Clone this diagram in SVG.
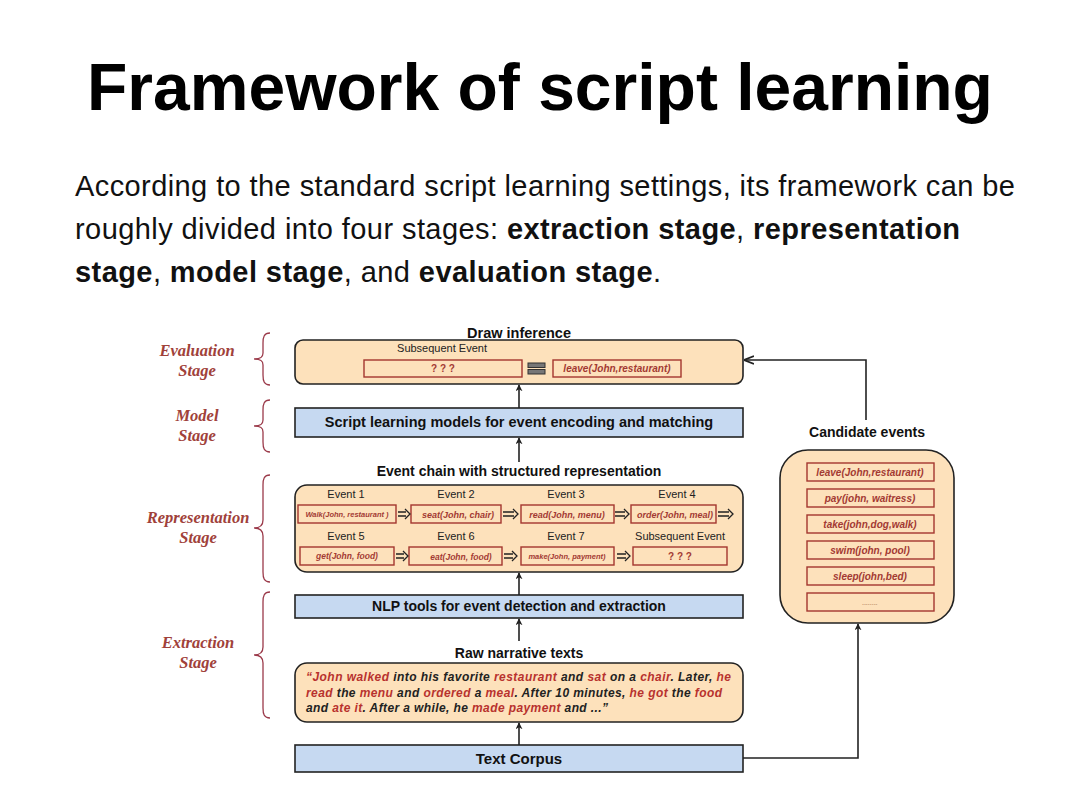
<svg xmlns="http://www.w3.org/2000/svg" width="1080" height="810" viewBox="0 0 1080 810">
<defs>
<marker id="ah" viewBox="0 0 10 10" refX="9" refY="5" markerWidth="7" markerHeight="7" orient="auto" markerUnits="userSpaceOnUse">
<path d="M0,0 L10,5 L0,10 L3,5 z" fill="#222"/>
</marker>
<marker id="ah2" viewBox="0 0 10 10" refX="9" refY="5" markerWidth="10" markerHeight="10" orient="auto" markerUnits="userSpaceOnUse">
<path d="M0,1 L10,5 L0,9" fill="none" stroke="#222" stroke-width="1.8"/>
</marker>
</defs>
<style>
.title{font-family:"Liberation Sans",Arial,sans-serif;font-weight:bold;font-size:66px;fill:#000}
.para{font-family:"Liberation Sans",Arial,sans-serif;font-size:29px;fill:#111}
.b{font-weight:bold}
.peach{fill:#FDE1BB;stroke:#222;stroke-width:1.6}
.blue{fill:#C6D9F1;stroke:#222;stroke-width:1.6}
.ev{fill:#FDE1BB;stroke:#A3362E;stroke-width:1.4}
.hd{font-family:"Liberation Sans",Arial,sans-serif;font-weight:bold;font-size:14px;fill:#111;text-anchor:middle}
.lbl{font-family:"Liberation Sans",Arial,sans-serif;font-size:11px;fill:#222;text-anchor:middle}
.it{font-family:"Liberation Sans",Arial,sans-serif;font-style:italic;font-weight:bold;font-size:10px;fill:#A33A33;text-anchor:middle}
.sm{font-size:9px}
.stage{font-family:"Liberation Serif","Times New Roman",serif;font-style:italic;font-weight:bold;font-size:16.5px;fill:#A0413A;text-anchor:middle}
.brace{fill:none;stroke:#9B3A4A;stroke-width:1.3}
.conn{fill:none;stroke:#222;stroke-width:1.6}
.dbl{fill:none;stroke:#222;stroke-width:1.3}
.raw{font-family:"Liberation Sans",Arial,sans-serif;font-style:italic;font-weight:bold;font-size:12px;fill:#222}
.r{fill:#B8322E}
</style>
<rect width="1080" height="810" fill="#fff"/>
<text class="title" x="540" y="110" text-anchor="middle">Framework of script learning</text>
<text class="para" x="75" y="196" textLength="940" lengthAdjust="spacing">According to the standard script learning settings, its framework can be</text>
<text class="para" x="75" y="239" textLength="885" lengthAdjust="spacing">roughly divided into four stages: <tspan class="b">extraction stage</tspan>, <tspan class="b">representation</tspan></text>
<text class="para" x="75" y="282" textLength="586" lengthAdjust="spacing"><tspan class="b">stage</tspan>, <tspan class="b">model stage</tspan>, and <tspan class="b">evaluation stage</tspan>.</text>

<g id="stages">
<path class="brace" d="M270,333 C264,333 263,337 263,343 L263,353 C263,357 261,359 254,359 C261,359 263,361 263,365 L263,375 C263,381 264,385 270,385"/>
<text class="stage" x="197" y="356">Evaluation</text><text class="stage" x="197" y="376">Stage</text>
<path class="brace" d="M270,400 C264,400 263,404 263,410 L263,420 C263,424 261,426 254,426 C261,426 263,428 263,432 L263,442 C263,448 264,452 270,452"/>
<text class="stage" x="197" y="421">Model</text><text class="stage" x="197" y="441">Stage</text>
<path class="brace" d="M270,475 C264,475 263,479 263,485 L263,520 C263,525 261,528 254,528 C261,528 263,531 263,536 L263,572 C263,578 264,582 270,582"/>
<text class="stage" x="198" y="523">Representation</text><text class="stage" x="198" y="543">Stage</text>
<path class="brace" d="M270,592 C264,592 263,596 263,602 L263,647 C263,652 261,655 254,655 C261,655 263,658 263,663 L263,708 C263,714 264,718 270,718"/>
<text class="stage" x="198" y="648">Extraction</text><text class="stage" x="198" y="668">Stage</text>
</g>

<g id="eval">
<text class="hd" x="519" y="338" style="font-size:14.5px">Draw inference</text>
<rect class="peach" x="295" y="340" width="448" height="44" rx="8"/>
<text class="lbl" x="442" y="352">Subsequent Event</text>
<rect class="ev" x="364" y="360" width="158" height="17"/>
<text class="it" x="443" y="372" style="font-style:normal">? ? ?</text>
<rect x="528" y="363" width="17" height="4.5" fill="#777" stroke="#333" stroke-width="1"/>
<rect x="528" y="369.5" width="17" height="4.5" fill="#777" stroke="#333" stroke-width="1"/>
<rect class="ev" x="553" y="360" width="128" height="17"/>
<text class="it" x="617" y="372">leave(John,restaurant)</text>
</g>

<g id="model">
<rect class="blue" x="295" y="408" width="448" height="29"/>
<text class="hd" x="519" y="427" style="font-size:14.5px">Script learning models for event encoding and matching</text>
</g>

<g id="representation">
<text class="hd" x="519" y="476">Event chain with structured representation</text>
<rect class="peach" x="295" y="485" width="448" height="87" rx="12"/>
<text class="lbl" x="346" y="498">Event 1</text>
<text class="lbl" x="456" y="498">Event 2</text>
<text class="lbl" x="566" y="498">Event 3</text>
<text class="lbl" x="677" y="498">Event 4</text>
<rect class="ev" x="298" y="505" width="98" height="18"/>
<text class="it" x="347" y="517" style="font-size:7.5px">Walk(John, restaurant )</text>
<rect class="ev" x="411" y="505" width="90" height="18"/>
<text class="it sm" x="458" y="517.5">seat(John, chair)</text>
<rect class="ev" x="521" y="505" width="93" height="18"/>
<text class="it sm" x="567" y="517.5">read(John, menu)</text>
<rect class="ev" x="631" y="505" width="85" height="18"/>
<text class="it sm" x="675" y="517.5">order(John, meal)</text>
<text class="lbl" x="346" y="540">Event 5</text>
<text class="lbl" x="456" y="540">Event 6</text>
<text class="lbl" x="566" y="540">Event 7</text>
<text class="lbl" x="680" y="540">Subsequent Event</text>
<rect class="ev" x="300" y="547" width="94" height="18"/>
<text class="it" x="347" y="559" style="font-size:8.5px">get(John, food)</text>
<rect class="ev" x="409" y="547" width="93" height="18"/>
<text class="it" x="461" y="559.5" style="font-size:8.5px">eat(John, food)</text>
<rect class="ev" x="521" y="547" width="93" height="18"/>
<text class="it" x="567" y="559" style="font-size:7.5px">make(John, payment)</text>
<rect class="ev" x="633" y="547" width="94" height="18"/>
<text class="it" x="680" y="560" style="font-style:normal">? ? ?</text>
<path class="dbl" d="M398,512 H406 M398,516 H406 M405,509 L410,514 L405,519"/>
<path class="dbl" d="M503,512 H514 M503,516 H514 M513,509 L518,514 L513,519"/>
<path class="dbl" d="M615,512 H625 M615,516 H625 M624,509 L629,514 L624,519"/>
<path class="dbl" d="M718,512 H729 M718,516 H729 M728,509 L733,514 L728,519"/>
<path class="dbl" d="M396,554 H404 M396,558 H404 M403,551 L408,556 L403,561"/>
<path class="dbl" d="M504,554 H513 M504,558 H513 M512,551 L517,556 L512,561"/>
<path class="dbl" d="M617,554 H626 M617,558 H626 M625,551 L630,556 L625,561"/>
</g>

<g id="nlp">
<rect class="blue" x="295" y="595" width="448" height="23"/>
<text class="hd" x="519" y="611">NLP tools for event detection and extraction</text>
</g>

<g id="raw">
<text class="hd" x="519" y="658">Raw narrative texts</text>
<rect class="peach" x="295" y="663" width="448" height="59" rx="12"/>
<text class="raw" x="306" y="681" textLength="425" lengthAdjust="spacing"><tspan class="r">“John walked</tspan> into his favorite <tspan class="r">restaurant</tspan> and <tspan class="r">sat</tspan> on a <tspan class="r">chair</tspan>.  Later, <tspan class="r">he</tspan></text>
<text class="raw" x="306" y="697" textLength="416" lengthAdjust="spacing"><tspan class="r">read</tspan> the <tspan class="r">menu</tspan> and <tspan class="r">ordered</tspan> a <tspan class="r">meal</tspan>.  After 10 minutes, <tspan class="r">he got</tspan> the <tspan class="r">food</tspan></text>
<text class="raw" x="306" y="712" textLength="302" lengthAdjust="spacing">and <tspan class="r">ate it</tspan>. After a while, he <tspan class="r">made payment</tspan> and ...”</text>
</g>

<g id="corpus">
<rect class="blue" x="295" y="745" width="448" height="27"/>
<text class="hd" x="519" y="764" style="font-size:15px">Text Corpus</text>
</g>

<g id="candidates">
<text class="hd" x="867" y="437">Candidate events</text>
<rect class="peach" x="780" y="450" width="174" height="173" rx="28"/>
<rect class="ev" x="807" y="463" width="127" height="18"/>
<text class="it" x="870" y="476">leave(John,restaurant)</text>
<rect class="ev" x="807" y="489" width="127" height="18"/>
<text class="it" x="870" y="502">pay(john, waitress)</text>
<rect class="ev" x="807" y="515" width="127" height="18"/>
<text class="it" x="870" y="528">take(john,dog,walk)</text>
<rect class="ev" x="807" y="541" width="127" height="18"/>
<text class="it" x="870" y="554">swim(john, pool)</text>
<rect class="ev" x="807" y="567" width="127" height="18"/>
<text class="it" x="870" y="580">sleep(john,bed)</text>
<rect class="ev" x="807" y="593" width="127" height="18"/>
<text class="it" x="870" y="605" style="font-size:7px;fill:#C9A07A">........</text>
</g>

<g id="connectors">
<line class="conn" x1="519" y1="408" x2="519" y2="385" marker-end="url(#ah)"/>
<line class="conn" x1="519" y1="462" x2="519" y2="438" marker-end="url(#ah)"/>
<line class="conn" x1="519" y1="595" x2="519" y2="573" marker-end="url(#ah)"/>
<line class="conn" x1="519" y1="641" x2="519" y2="619" marker-end="url(#ah)"/>
<line class="conn" x1="519" y1="745" x2="519" y2="723" marker-end="url(#ah)"/>
<polyline class="conn" points="743,758 858,758 858,624" marker-end="url(#ah)"/>
<polyline class="conn" points="866,420 866,360 745,360" marker-end="url(#ah2)"/>
</g>
</svg>
